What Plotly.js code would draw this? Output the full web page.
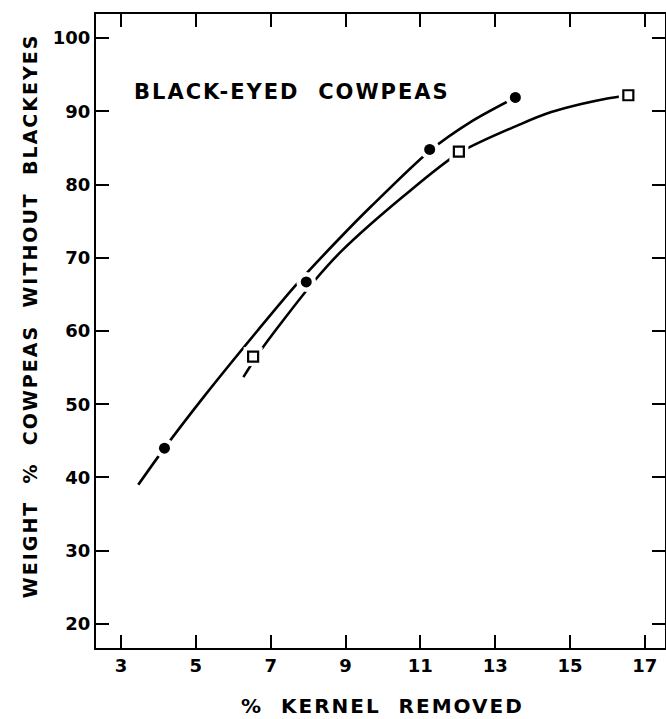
<!DOCTYPE html>
<html>
<head>
<meta charset="utf-8">
<script src="https://cdn.plot.ly/plotly-3.0.1.min.js"></script>
<style>
  html, body { margin: 0; padding: 0; background: #fff; }
  #chart { width: 666px; height: 719px; }
  .annotation-text { letter-spacing: 2px; }
</style>
</head>
<body>
<div id="chart"></div>
<script>
// Filled circles: measured points
const circleX = [4.16, 7.95, 11.25, 13.54];
const circleY = [44.0, 66.7, 84.8, 91.9];
// Open squares: measured points
const squareX = [6.53, 12.03, 16.56];
const squareY = [56.5, 84.5, 92.2];
// Fitted curve through filled circles
const circleFitX = [3.46, 4.16, 5.21, 6.64, 7.66, 8.83, 9.68, 11.25, 12.36, 13.54];
const circleFitY = [39.0, 44.0, 51.0, 60.0, 66.2, 72.6, 77.0, 84.6, 88.6, 91.9];
// Fitted curve through open squares
const squareFitX = [6.27, 6.74, 7.31, 8.16, 8.87, 10.57, 12.03, 13.70, 14.50, 15.30, 15.93, 16.56];
const squareFitY = [53.7, 57.4, 61.3, 66.8, 70.8, 78.5, 84.3, 88.3, 89.9, 91.0, 91.7, 92.2];
// Axis ticks
const xTicks = [3, 5, 7, 9, 11, 13, 15, 17];
const yTicks = [20, 30, 40, 50, 60, 70, 80, 90, 100];
// Texts
const labelText = "BLACK-EYED\u00A0\u00A0COWPEAS";
const xTitle = "%\u00A0\u00A0KERNEL\u00A0\u00A0REMOVED";
const yTitle = "WEIGHT\u00A0\u00A0%\u00A0\u00A0COWPEAS\u00A0\u00A0WITHOUT\u00A0\u00A0BLACKEYES";

const FONT = "DejaVu Sans, sans-serif";

const lineStyle = { color: "#000", width: 2.6, shape: "spline", smoothing: 0.8 };

const traces = [
  { x: circleFitX, y: circleFitY, mode: "lines", line: lineStyle, hoverinfo: "skip", showlegend: false },
  { x: squareFitX, y: squareFitY, mode: "lines", line: lineStyle, hoverinfo: "skip", showlegend: false },
  // white halos to make gaps in the lines around markers
  { x: circleX, y: circleY, mode: "markers", marker: { symbol: "circle", size: 20, color: "#fff" }, hoverinfo: "skip", showlegend: false },
  { x: squareX, y: squareY, mode: "markers", marker: { symbol: "square", size: 19, color: "#fff" }, hoverinfo: "skip", showlegend: false },
  { x: circleX, y: circleY, mode: "markers", marker: { symbol: "circle", size: 11, color: "#000" }, showlegend: false },
  { x: squareX, y: squareY, mode: "markers", marker: { symbol: "square-open", size: 10, color: "#000", line: { width: 2.2, color: "#000" } }, showlegend: false }
];

function axisStyle() {
  return {
    ticks: "inside", ticklen: 13, tickwidth: 2, tickcolor: "#000",
    showline: true, linewidth: 2, linecolor: "#000", mirror: "ticks",
    showgrid: false, zeroline: false,
    tickfont: { family: FONT, size: 18, color: "#000", weight: "bold" }
  };
}

const layout = {
  width: 666, height: 719,
  margin: { l: 96, r: 1, t: 14, b: 71 },
  paper_bgcolor: "#fff", plot_bgcolor: "#fff",
  showlegend: false,
  font: { family: FONT, color: "#000", size: 18 },
  xaxis: Object.assign(axisStyle(), {
    range: [2.33, 17.54],
    tickvals: xTicks, ticktext: xTicks.map(String)
  }),
  yaxis: Object.assign(axisStyle(), {
    range: [16.7, 103.3],
    tickvals: yTicks, ticktext: yTicks.map(String)
  }),
  annotations: [
    { x: 7.58, y: 92.6, xref: "x", yref: "y", text: labelText, showarrow: false,
      font: { family: FONT, size: 21, color: "#000", weight: "bold" } },
    { x: 0.503, y: -0.0915, xref: "paper", yref: "paper", xanchor: "center", yanchor: "middle",
      text: xTitle, showarrow: false,
      font: { family: FONT, size: 20, color: "#000", weight: "bold" } },
    { x: -0.116, y: 0.525, xref: "paper", yref: "paper", xanchor: "center", yanchor: "middle",
      text: yTitle, showarrow: false, textangle: -90,
      font: { family: FONT, size: 19, color: "#000", weight: "bold" } }
  ]
};

Plotly.newPlot("chart", traces, layout, { displayModeBar: false, staticPlot: true });
</script>
</body>
</html>
